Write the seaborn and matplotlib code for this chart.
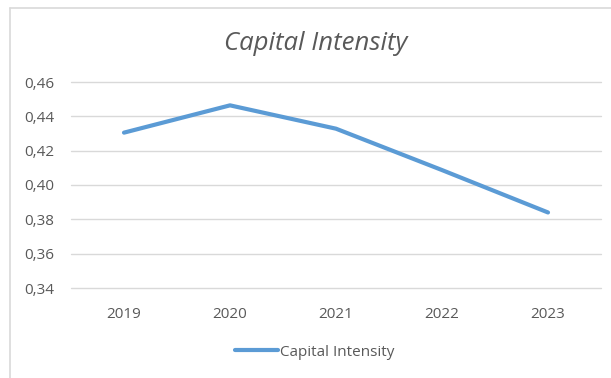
import matplotlib
matplotlib.use("Agg")
import matplotlib.pyplot as plt
import matplotlib.lines as mlines
import seaborn as sns
import pandas as pd

years = ["2019", "2020", "2021", "2022", "2023"]
capital_intensity = [0.4305, 0.4464, 0.4328, 0.4087, 0.3840]
series_name = "Capital Intensity"
yticks = [0.34, 0.36, 0.38, 0.40, 0.42, 0.44, 0.46]

sns.set_theme(style="white")
plt.rcParams["font.family"] = ["Open Sans", "DejaVu Sans"]

df = pd.DataFrame({"Year": years, series_name: capital_intensity})

fig = plt.figure(figsize=(6.11, 3.78), dpi=100)
ax = fig.add_axes([71/611, 1-288/378, 530/611, (288-82)/378])

grid_c = "#D9D9D9"
text_c = "#595959"
blue = "#5B9BD5"

for t in yticks:
    ax.axhline(t, color=grid_c, lw=1.0, zorder=0, clip_on=False)

sns.lineplot(data=df, x="Year", y=series_name, ax=ax, color=blue, lw=3,
             solid_capstyle="round", solid_joinstyle="round", zorder=3)

ax.set_xlim(-0.5, len(years) - 0.5)
ax.set_ylim(yticks[0], yticks[-1])
ax.set_yticks(yticks)
ax.set_yticklabels([f"{t:.2f}".replace(".", ",") for t in yticks])
ax.set_xticks(range(len(years)))
ax.set_xticklabels(years)
ax.tick_params(axis="both", length=0, labelsize=11, colors=text_c)
ax.tick_params(axis="y", pad=12)
ax.tick_params(axis="x", pad=14)
ax.set_xlabel("")
ax.set_ylabel("")
for s in ax.spines.values():
    s.set_visible(False)
if ax.get_legend():
    ax.get_legend().remove()

fig.text(316/611, 1-43/378, "Capital Intensity", ha="center", va="center",
         fontsize=18.5, style="italic", color=text_c)

handle = mlines.Line2D([], [], color=blue, lw=3, solid_capstyle="round")
fig.legend([handle], [series_name], loc="center", bbox_to_anchor=(315/611, 1-352/378),
           frameon=False, fontsize=11, labelcolor=text_c, handlelength=2.8,
           handletextpad=0.15)

# chart border
fig.add_artist(mlines.Line2D([9.5/611, 9.5/611], [0, 1-8/378], color="#D9D9D9", lw=1.2, transform=fig.transFigure))
fig.add_artist(mlines.Line2D([9.5/611, 1], [1-8/378, 1-8/378], color="#D9D9D9", lw=1.2, transform=fig.transFigure))

fig.savefig("out.png", dpi=100, facecolor="white")
